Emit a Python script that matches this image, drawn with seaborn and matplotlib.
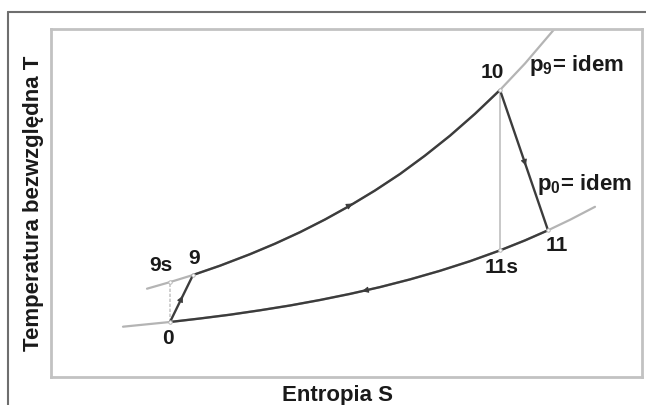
import matplotlib
matplotlib.use("Agg")
import matplotlib.pyplot as plt
from matplotlib.lines import Line2D
import numpy as np
import pandas as pd
import seaborn as sns

# Isobar p9 = const (upper) and p0 = const (lower), entropy S vs temperature T (arbitrary units)
upper_S = [96, 119, 142, 169, 199, 224, 249, 274, 298, 324, 349, 374, 399, 424, 449, 474, 503]
upper_T = [88.3, 94.9, 102.0, 111.3, 122.8, 133.3, 144.8, 157.5, 170.8, 186.5, 203.0, 221.4,
           241.3, 263.2, 287.0, 313.5, 347.5]
lower_S = [72, 119, 149, 179, 209, 239, 269, 299, 329, 359, 389, 419, 449, 474, 497, 519, 544]
lower_T = [50.3, 55.0, 58.5, 62.3, 66.7, 71.5, 77.0, 83.1, 89.9, 97.6, 106.2, 115.8, 126.6,
           136.6, 146.7, 157.2, 170.2]

# State points of the cycle
point_names = ["0", "9s", "9", "10", "11s", "11"]
point_S = [119, 119, 142, 449, 449, 497]
point_T = [55.0, 94.9, 102.0, 287.0, 126.6, 146.7]
# label offsets in pixels
label_dx = [-2, -9, 1, -8, 2, 9]
label_dy = [-16, 17, 16, 17, -17, -15]

sns.set_theme(style="white")
plt.rcParams["font.family"] = ["Liberation Sans", "DejaVu Sans"]

W, H = 646, 405
fig = plt.figure(figsize=(W / 100, H / 100), dpi=100)
ax = fig.add_axes([51 / W, (H - 377) / H, 591 / W, 348 / H])
ax.set_xlim(0, 591)
ax.set_ylim(0, 348)

light = "#b4b4b4"
dark = "#3c3c3c"
ink = "#1a1a1a"

up = pd.DataFrame({"S": upper_S, "T": upper_T})
lo = pd.DataFrame({"S": lower_S, "T": lower_T})
P = dict(zip(point_names, zip(point_S, point_T)))

# full isobars in light gray
sns.lineplot(data=up, x="S", y="T", sort=False, color=light, lw=1.6, ax=ax)
sns.lineplot(data=lo, x="S", y="T", sort=False, color=light, lw=1.6, ax=ax)
# cycle parts of the isobars: 9 -> 10 and 11 -> 0
sns.lineplot(data=up.iloc[2:15], x="S", y="T", sort=False, color=dark, lw=1.7, ax=ax)
sns.lineplot(data=lo.iloc[1:15], x="S", y="T", sort=False, color=dark, lw=1.7, ax=ax)

# isentropic reference lines
ax.plot([P["0"][0], P["9s"][0]], [P["0"][1], P["9s"][1]], color="#c8c8c8", lw=1.2, ls=(0, (2, 1)))
ax.plot([P["10"][0], P["11s"][0]], [P["10"][1], P["11s"][1]], color="#c8c8c8", lw=1.4)

# real compression and expansion
ax.plot([P["0"][0], P["9"][0]], [P["0"][1], P["9"][1]], color=dark, lw=1.7)
ax.plot([P["10"][0], P["11"][0]], [P["10"][1], P["11"][1]], color=dark, lw=1.7)


def arrow_between(a, b, frac, ax):
    a = np.array(a, float)
    b = np.array(b, float)
    p = a + frac * (b - a)
    d = (b - a) / np.linalg.norm(b - a)
    ax.annotate("", xy=p + 3 * d, xytext=p - 3 * d,
                arrowprops=dict(arrowstyle="-|>", color=dark, lw=0.8,
                                mutation_scale=9, shrinkA=0, shrinkB=0))


arrow_between(P["0"], P["9"], 0.5, ax)
arrow_between(P["10"], P["11"], 0.52, ax)
arrow_between((upper_S[7], upper_T[7]), (upper_S[9], upper_T[9]), 0.5, ax)
arrow_between((lower_S[8], lower_T[8]), (lower_S[7], lower_T[7]), 0.5, ax)

# point markers (small light dots) and labels
for name, dx, dy in zip(point_names, label_dx, label_dy):
    s, t = P[name]
    ax.plot([s], [t], marker="o", ms=2.5, mfc="white", mec="#b8b8b8", mew=0.7)
    ax.annotate(name, (s, t), xytext=(dx, dy), textcoords="offset pixels",
                ha="center", va="center", fontsize=15, fontweight="bold", color=ink)

ax.text(478, 306, r"$\mathregular{p_9}$= idem", fontsize=16, fontweight="bold",
        color=ink, ha="left", va="baseline")
ax.text(486, 187, r"$\mathregular{p_0}$= idem", fontsize=16, fontweight="bold",
        color=ink, ha="left", va="baseline")

ax.set_xticks([])
ax.set_yticks([])
ax.set_xlabel("Entropia S", fontsize=16, fontweight="bold", color=ink)
ax.set_ylabel("Temperatura bezwzględna T", fontsize=16, fontweight="bold", color=ink)
ax.xaxis.set_label_coords((337 - 51) / 591, -8 / 348)
ax.yaxis.set_label_coords(-7 / 591, 0.5)
for sp in ax.spines.values():
    sp.set_color("#c2c2c2")
    sp.set_linewidth(2)

# outer frame (left and top edges)
fig.add_artist(Line2D([8 / W, 8 / W], [0, 1 - 12 / H], transform=fig.transFigure, color="#6e6e6e", lw=1.5))
fig.add_artist(Line2D([8 / W, 1], [1 - 12 / H, 1 - 12 / H], transform=fig.transFigure, color="#6e6e6e", lw=1.5))

fig.savefig("out.png", dpi=100, facecolor="white")
